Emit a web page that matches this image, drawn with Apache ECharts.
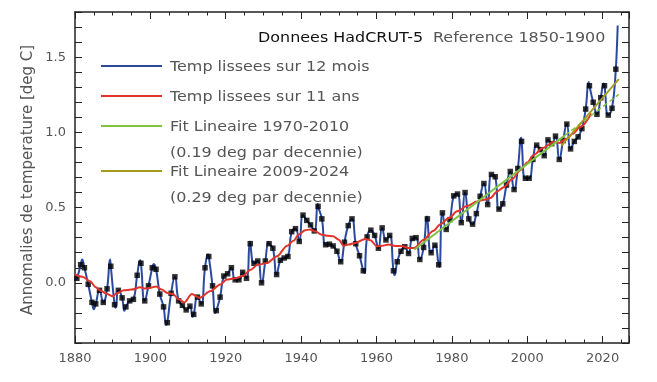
<!DOCTYPE html>
<html>
<head>
<meta charset="utf-8">
<script src="https://cdn.jsdelivr.net/npm/echarts@6/dist/echarts.min.js"></script>
<style>
html,body{margin:0;padding:0;background:#fff;}
#chart{width:657px;height:382px;}
</style>
</head>
<body>
<div id="chart"></div>
<script>
// ---- data ----
const annualStartYear = 1880;
// annual means (deg C, reference 1850-1900), 1880 .. 2023
const annualValues = [
  0.03, 0.12, 0.10, -0.01, -0.13, -0.14, -0.05, -0.13, -0.04, 0.11,
  -0.145, -0.05, -0.10, -0.16, -0.12, -0.11, 0.05, 0.13, -0.12, -0.02,
  0.10, 0.09, -0.075, -0.16, -0.265, -0.07, 0.04, -0.12, -0.15, -0.18,
  -0.155, -0.21, -0.095, -0.14, 0.10, 0.175, -0.02, -0.185, -0.095, 0.045,
  0.06, 0.10, 0.02, 0.02, 0.07, 0.03, 0.26, 0.13, 0.145, 0.00,
  0.145, 0.26, 0.23, 0.055, 0.15, 0.165, 0.175, 0.34, 0.36, 0.275,
  0.45, 0.415, 0.385, 0.345, 0.508, 0.425, 0.253, 0.257, 0.245, 0.21,
  0.14, 0.27, 0.38, 0.425, 0.26, 0.18, 0.08, 0.305, 0.35, 0.315,
  0.23, 0.365, 0.285, 0.315, 0.08, 0.14, 0.21, 0.24, 0.195, 0.295,
  0.30, 0.155, 0.235, 0.425, 0.20, 0.25, 0.12, 0.465, 0.355, 0.42,
  0.578, 0.59, 0.40, 0.60, 0.425, 0.39, 0.46, 0.575, 0.66, 0.52,
  0.72, 0.705, 0.49, 0.525, 0.65, 0.74, 0.62, 0.76, 0.94, 0.695,
  0.695, 0.82, 0.915, 0.885, 0.845, 0.95, 0.925, 0.975, 0.82, 0.945,
  1.055, 0.89, 0.94, 0.97, 1.025, 1.155, 1.31, 1.20, 1.12, 1.23,
  1.31, 1.115, 1.16, 1.42
];
// extra turning points of the 12-month smoothed curve (between annual means)
const blueExtraYears  = [1880.0, 1881.9, 1885.0, 1889.3, 1890.8, 1893.1, 1897.3, 1900.9, 1904.2, 1911.2, 1915.3, 1917.2, 1926.4, 1931.3, 1944.4, 1956.8, 1964.8, 1973.4, 1976.7, 1998.4, 2016.3, 2020.3, 2024.0];
const blueExtraValues = [0.02,   0.155,  -0.175, 0.155,  -0.165, -0.185, 0.15,   0.125,  -0.28,  -0.225, 0.19,   -0.2,   0.275,  0.27,   0.525,  0.065,  0.05,   0.44,   0.105,  0.965,  1.335,  1.325,  1.71];

// 11-year smoothing
const redYears = [1880, 1882, 1884, 1885.5, 1887, 1888.5, 1890, 1891, 1893, 1895, 1897.3, 1898.6, 1900, 1901.5, 1903, 1904.5, 1906, 1907.5, 1909, 1911, 1913, 1916, 1918.5, 1920.3, 1922.5, 1924.5, 1926.5, 1928.5, 1931, 1933.6, 1936.2, 1938, 1939.3, 1941.1, 1942.4, 1943.7, 1945.5, 1947, 1948.5, 1950, 1951.3, 1952.6, 1954.4, 1957, 1958.4, 1960.1, 1961.5, 1963.2, 1965, 1967, 1968.5, 1970, 1972.5, 1975, 1977, 1979.2, 1981.4, 1984, 1986.7, 1988.5, 1990.2, 1992, 1993.8, 1996, 1998.2, 2000, 2001.7, 2004, 2007.1, 2008.5, 2010.6, 2012, 2014.1, 2017];
const redValues = [0.055, 0.04, 0.01, -0.03, -0.055, -0.075, -0.09, -0.07, -0.05, -0.045, -0.03, -0.038, -0.033, -0.024, -0.045, -0.067, -0.075, -0.11, -0.13, -0.075, -0.10, -0.055, -0.011, 0.022, 0.03, 0.045, 0.085, 0.12, 0.132, 0.177, 0.245, 0.28, 0.32, 0.349, 0.355, 0.342, 0.32, 0.313, 0.309, 0.287, 0.247, 0.254, 0.265, 0.291, 0.283, 0.243, 0.247, 0.254, 0.245, 0.243, 0.232, 0.232, 0.287, 0.345, 0.39, 0.43, 0.475, 0.51, 0.54, 0.552, 0.563, 0.607, 0.636, 0.69, 0.75, 0.80, 0.85, 0.895, 0.938, 0.93, 0.96, 0.99, 1.037, 1.126];

// linear fits
const fit1Years = [1970, 2010];
const fit1Values = [0.22, 0.98];
const fit1ExtYears = [2010, 2024.3];
const fit1ExtValues = [0.98, 1.252];
const fit2Years = [2009, 2024.3];
const fit2Values = [0.91, 1.354];

// axis ticks
const xMin = 1880, xMax = 2027, xMajor = 20, xMinor = 5;
const yMin = -0.4, yMax = 1.8, yStep = 0.1;

const titleText1 = 'Donnees HadCRUT-5';
const titleText2 = 'Reference 1850-1900';
const legendTexts = ['Temp lissees sur 12 mois', 'Temp lissees sur 11 ans', 'Fit Lineaire 1970-2010', '(0.19 deg par decennie)', 'Fit Lineaire 2009-2024', '(0.29 deg par decennie)'];
const yAxisTitle = 'Annomalies de temperature [deg C]';

// ---- build ----
const pair = (xs, ys) => xs.map((x, i) => [x, ys[i]]);
const squares = annualValues.map((v, i) => [annualStartYear + i + 0.5, v]);
const blueData = squares.concat(pair(blueExtraYears, blueExtraValues)).sort((a, b) => a[0] - b[0]);

const FONT = 'DejaVu Sans';
const C_BLUE = '#2b4a9e', C_RED = '#e3342b', C_GREEN = '#80c244', C_OLIVE = '#a39b1e';
const TXT = '#555555';

function xAx(pos, interval, len, labels, line) {
  return {
    type: 'value', min: xMin, max: xMax, interval: interval, position: pos,
    axisLine: { show: line, onZero: false, lineStyle: { color: '#222', width: 1.5 } },
    axisTick: { show: true, inside: true, length: len, lineStyle: { color: '#222', width: 1 } },
    axisLabel: labels ? { show: true, color: TXT, fontSize: 13, fontFamily: FONT, margin: 9,
      formatter: v => (Math.abs(v % xMajor) < 1e-6 ? String(v) : '') } : { show: false },
    splitLine: { show: false }
  };
}
function yAx(pos, labels) {
  return {
    type: 'value', min: yMin, max: yMax, interval: yStep, position: pos,
    axisLine: { show: true, onZero: false, lineStyle: { color: '#222', width: 1.5 } },
    axisTick: { show: true, inside: true, length: 7, lineStyle: { color: '#222', width: 1 } },
    axisLabel: labels ? { show: true, color: TXT, fontSize: 13, fontFamily: FONT, margin: 9,
      formatter: v => { const r = Math.round(v * 10); return (r >= 0 && r % 5 === 0) ? (r / 10).toFixed(1) : ''; } } : { show: false },
    splitLine: { show: false }
  };
}

const legendX1 = 101, legendX2 = 162, legendTX = 170;
const legendRows = [
  { y: 66, color: C_BLUE, text: legendTexts[0] },
  { y: 96, color: C_RED, text: legendTexts[1] },
  { y: 126, color: C_GREEN, text: legendTexts[2] },
  { y: 152, color: null, text: legendTexts[3] },
  { y: 171, color: C_OLIVE, text: legendTexts[4] },
  { y: 197, color: null, text: legendTexts[5] }
];
const textFont = '14.5px "' + FONT + '"';
const graphics = [];
legendRows.forEach(r => {
  if (r.color) graphics.push({ type: 'line', shape: { x1: legendX1, y1: r.y, x2: legendX2, y2: r.y }, style: { stroke: r.color, lineWidth: 2 }, z: 10 });
  graphics.push({ type: 'text', x: legendTX, y: r.y + 1, scaleX: 1.1, style: { text: r.text, fill: TXT, font: textFont, textVerticalAlign: 'middle', textAlign: 'left' }, z: 10 });
});
graphics.push({ type: 'text', x: 258, y: 38, scaleX: 1.1, style: { text: titleText1, fill: '#111', font: textFont, textVerticalAlign: 'middle' }, z: 10 });
graphics.push({ type: 'text', x: 433, y: 38, scaleX: 1.1, style: { text: titleText2, fill: TXT, font: textFont, textVerticalAlign: 'middle' }, z: 10 });
graphics.push({ type: 'text', x: 28, y: 180, rotation: Math.PI / 2, style: { text: yAxisTitle, fill: TXT, font: '15px "' + FONT + '"', textAlign: 'center', textVerticalAlign: 'middle' }, z: 10 });

const chart = echarts.init(document.getElementById('chart'), null, { renderer: 'canvas' });
chart.setOption({
  animation: false,
  backgroundColor: '#fff',
  grid: { left: 75, right: 28, top: 12, bottom: 39, containLabel: false },
  xAxis: [
    xAx('bottom', xMajor, 7, true, true),
    xAx('bottom', xMinor, 3.5, false, false),
    xAx('top', xMajor, 7, false, true),
    xAx('top', xMinor, 3.5, false, false)
  ],
  yAxis: [yAx('left', true), yAx('right', false)],
  graphic: graphics,
  series: [
    { type: 'line', name: 'blue', data: blueData, xAxisIndex: 0, yAxisIndex: 0, showSymbol: false, smooth: 0.5, clip: true, lineStyle: { color: C_BLUE, width: 2 }, z: 2 },
    { type: 'scatter', name: 'annual', data: squares, xAxisIndex: 0, yAxisIndex: 0, symbol: 'rect', symbolSize: 5.5, itemStyle: { color: '#000' }, z: 3 },
    { type: 'line', name: 'red', data: pair(redYears, redValues), xAxisIndex: 0, yAxisIndex: 0, showSymbol: false, smooth: 0.3, smoothMonotone: 'x', lineStyle: { color: C_RED, width: 2 }, z: 4 },
    { type: 'line', name: 'fit1', data: pair(fit1Years, fit1Values), xAxisIndex: 0, yAxisIndex: 0, showSymbol: false, lineStyle: { color: C_GREEN, width: 2 }, z: 5 },
    { type: 'line', name: 'fit1ext', data: pair(fit1ExtYears, fit1ExtValues), xAxisIndex: 0, yAxisIndex: 0, showSymbol: false, lineStyle: { color: C_GREEN, width: 1.5, type: [5, 3] }, z: 5 },
    { type: 'line', name: 'fit2', data: pair(fit2Years, fit2Values), xAxisIndex: 0, yAxisIndex: 0, showSymbol: false, lineStyle: { color: C_OLIVE, width: 1.8 }, z: 6 }
  ]
});
</script>
</body>
</html>
